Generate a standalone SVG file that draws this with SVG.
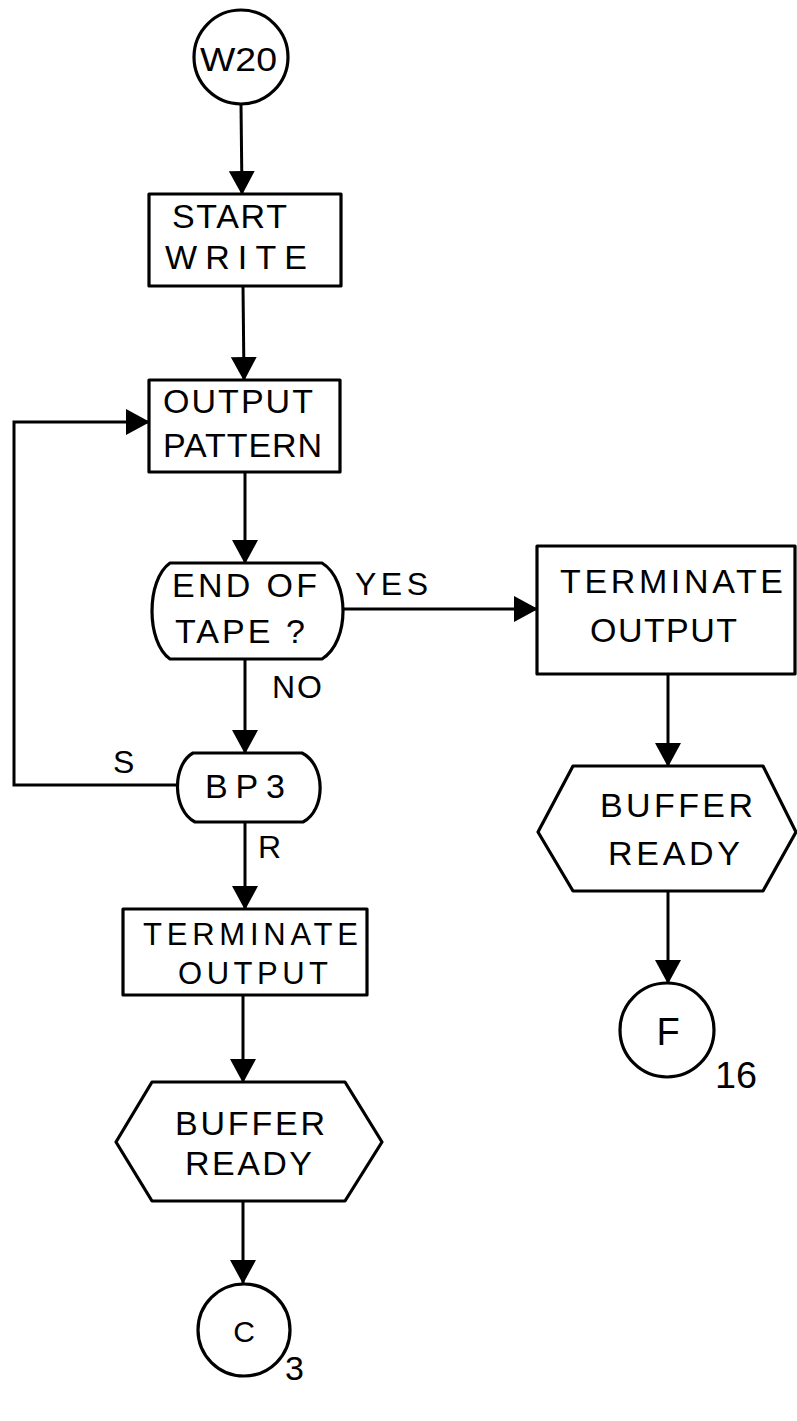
<svg xmlns="http://www.w3.org/2000/svg" width="797" height="1421" viewBox="0 0 797 1421">
<style>
.shape{fill:#fff;stroke:#000;stroke-width:3.2;stroke-linejoin:round}
.conn{fill:none;stroke:#000;stroke-width:3}
text{font-family:"Liberation Sans",Arial,sans-serif;font-size:34px;fill:#000}
.lbl{font-size:32px}
.small{font-size:30px}
.tight{font-size:31px}
</style>
<defs>
<marker id="arr" markerUnits="userSpaceOnUse" markerWidth="24" markerHeight="26" viewBox="0 0 24 26" refX="23" refY="13" orient="auto">
<path d="M0,0 L24,13 L0,26 Z" fill="#000"/>
</marker>
</defs>
<rect width="797" height="1421" fill="#fff"/>
<g id="connectors">
<line class="conn" x1="241" y1="104" x2="242" y2="194" marker-end="url(#arr)"/>
<line class="conn" x1="243" y1="286" x2="244" y2="380" marker-end="url(#arr)"/>
<line class="conn" x1="245" y1="472" x2="245" y2="563" marker-end="url(#arr)"/>
<line class="conn" x1="343" y1="609" x2="537" y2="609" marker-end="url(#arr)"/>
<line class="conn" x1="245" y1="659" x2="245" y2="753" marker-end="url(#arr)"/>
<polyline class="conn" points="177,785 14,785 14,422 149,422" marker-end="url(#arr)"/>
<line class="conn" x1="245" y1="822" x2="245" y2="909" marker-end="url(#arr)"/>
<line class="conn" x1="243" y1="995" x2="243" y2="1082" marker-end="url(#arr)"/>
<line class="conn" x1="243" y1="1201" x2="243" y2="1283" marker-end="url(#arr)"/>
<line class="conn" x1="668" y1="674" x2="668" y2="766" marker-end="url(#arr)"/>
<line class="conn" x1="668" y1="891" x2="668" y2="983" marker-end="url(#arr)"/>
<text class="lbl" x="355" y="595" textLength="73" lengthAdjust="spacing">YES</text>
<text class="lbl" x="272" y="698" textLength="50" lengthAdjust="spacing">NO</text>
<text class="lbl" x="113" y="773">S</text>
<text class="lbl" x="258" y="858">R</text>
</g>
<g id="w20">
<circle class="shape" cx="241" cy="57" r="47"/>
<text x="200" y="71" textLength="77" lengthAdjust="spacingAndGlyphs">W20</text>
</g>
<g id="start-write">
<rect class="shape" x="149" y="194" width="192" height="92"/>
<text x="172" y="228" textLength="115" lengthAdjust="spacing">START</text>
<text x="165" y="269" textLength="142" lengthAdjust="spacing">WRITE</text>
</g>
<g id="output-pattern">
<rect class="shape" x="149" y="380" width="191" height="92"/>
<text x="163" y="413" textLength="150" lengthAdjust="spacing">OUTPUT</text>
<text x="163" y="457" textLength="159" lengthAdjust="spacing">PATTERN</text>
</g>
<g id="end-of-tape">
<path class="shape" d="M170,563 H322 C350,580 350,642 322,659 H170 C146,642 146,580 170,563 Z"/>
<text x="172" y="597" textLength="145" lengthAdjust="spacing">END OF</text>
<text x="175" y="643" textLength="130" lengthAdjust="spacing">TAPE ?</text>
</g>
<g id="bp3">
<path class="shape" d="M193,753 H302 C326,765 326,810 303,822 H195 C172,810 172,765 193,753 Z"/>
<text x="205" y="798" textLength="80" lengthAdjust="spacing">BP3</text>
</g>
<g id="terminate-output-right">
<rect class="shape" x="537" y="546" width="258" height="128"/>
<text x="560" y="593" textLength="223" lengthAdjust="spacing">TERMINATE</text>
<text x="590" y="642" textLength="147" lengthAdjust="spacing">OUTPUT</text>
</g>
<g id="buffer-ready-right">
<path class="shape" d="M573,766 H763 L796,832 L763,891 H573 L538,832 Z"/>
<text x="600" y="817" textLength="153" lengthAdjust="spacing">BUFFER</text>
<text x="608" y="865" textLength="132" lengthAdjust="spacing">READY</text>
</g>
<g id="f16">
<circle class="shape" cx="667" cy="1030" r="47"/>
<text x="668" y="1045" text-anchor="middle" style="font-size:38px">F</text>
<text x="715" y="1088" textLength="42" lengthAdjust="spacingAndGlyphs" style="font-size:37px">16</text>
</g>
<g id="terminate-output-left">
<rect class="shape" x="123" y="909" width="244" height="86"/>
<text class="tight" x="143" y="945" textLength="215" lengthAdjust="spacing">TERMINATE</text>
<text class="tight" x="178" y="984" textLength="150" lengthAdjust="spacing">OUTPUT</text>
</g>
<g id="buffer-ready-left">
<path class="shape" d="M152,1082 H345 L382,1142 L345,1201 H152 L116,1142 Z"/>
<text x="175" y="1135" textLength="150" lengthAdjust="spacing">BUFFER</text>
<text x="185" y="1175" textLength="127" lengthAdjust="spacing">READY</text>
</g>
<g id="c3">
<circle class="shape" cx="244" cy="1330" r="46"/>
<text x="244" y="1342" text-anchor="middle" class="small">C</text>
<text x="285" y="1380" style="font-size:34px">3</text>
</g>
</svg>
